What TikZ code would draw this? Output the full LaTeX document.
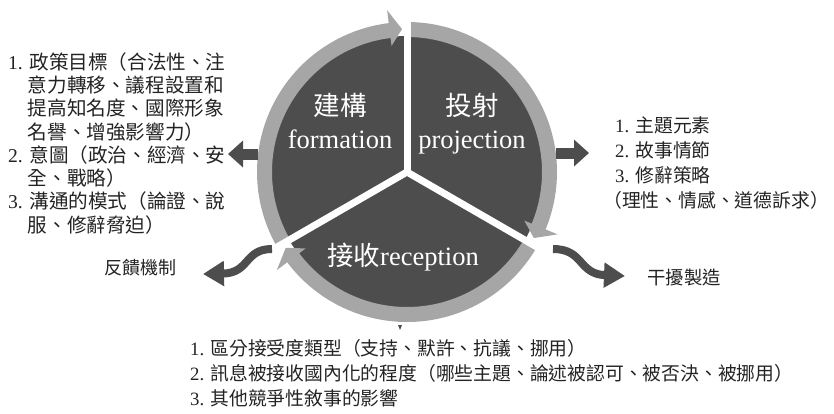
\documentclass[tikz,border=0pt]{standalone}
\usepackage{fontspec}
\setmainfont{Liberation Serif}
\newfontfamily\cjk{Noto Sans CJK TC}
\usetikzlibrary{arrows.meta,calc}
\definecolor{pie}{RGB}{77,77,77}
\definecolor{ringc}{RGB}{166,166,166}
\definecolor{ink}{RGB}{35,35,35}
\newcommand\RingArrow[3]{%
  \fill[ringc] ($(c)+(#1:150)$) arc[start angle=#1,end angle=#2,radius=150]
    -- ($(c)+(#2:163)$) -- ($(c)+(#3:143)$) -- ($(c)+(#2:127)$)
    -- ($(c)+(#2:135)$) arc[start angle=#2,end angle=#1,radius=135] -- cycle;}
\begin{document}
\begin{tikzpicture}[x=1pt,y=1pt,
  txt/.style={anchor=base west, inner sep=0pt, text=ink, font=\fontsize{18.8}{22}\selectfont},
  ltxt/.style={txt, font=\fontsize{19.6}{23}\selectfont},
  lab/.style={anchor=base, inner sep=0pt, text=white, font=\fontsize{26.5}{30}\selectfont},
  fat/.style={draw=pie, line width=11pt, -{Triangle[width=26pt,length=15pt]}},
  wavy/.style={draw=pie, line width=8pt, -{Triangle[width=24pt,length=21pt]}},
  gap/.style={draw=white, line width=7pt}]
\useasboundingbox (0,0) rectangle (834,-413);
\coordinate (c) at (407,-172);
% pie
\fill[pie] (c) circle[radius=136];
% ring arrows
\RingArrow{210}{97}{92}
\RingArrow{90}{-22.5}{-27.5}
\RingArrow{-30}{-143}{-148}
% white gaps
\coordinate (gtop) at ($(c)+(90:166)$);
\coordinate (gleft) at ($(c)+(210:166)$);
\coordinate (gright) at ($(c)+(330:166)$);
\draw[gap] (c) -- (gtop);
\draw[gap] (c) -- (gleft);
\draw[gap] (c) -- (gright);
% labels
\node[lab] (f1) at (340,-115) {\cjk 建構};
\node[lab] (f2) at (340,-148) {formation};
\node[lab] (p1) at (472,-115) {\cjk 投射};
\node[lab] (p2) at (472,-148) {projection};
\node[lab] (r1) at (403,-265) {{\cjk 接收}reception};
% straight arrows
\coordinate (la0) at (258,-154); \coordinate (la1) at (228,-154);
\coordinate (ra0) at (556,-153); \coordinate (ra1) at (589,-153);
\draw[fat] (la0) -- (la1);
\draw[fat] (ra0) -- (ra1);
% wavy arrows
\coordinate (wl0) at (272,-249); \coordinate (wl1) at (203,-274);
\coordinate (wr0) at (553,-249); \coordinate (wr1) at (625,-276);
\draw[wavy] (wl0) .. controls (244,-249) and (250,-273) .. (wl1);
\draw[wavy] (wr0) .. controls (584,-249) and (578,-274) .. (wr1);
% tiny mark
\coordinate (tm) at (400,-330);
\fill[pie] (398,-325) -- (402,-325) -- (tm) -- cycle;
% left text
\node[ltxt] (g1) at (8,-69.1) {1. {\cjk 政策目標（合法性、注}};
\node[ltxt] (g2) at (27.6,-92.4) {\cjk 意力轉移、議程設置和};
\node[ltxt] (g3) at (27.6,-115.7) {\cjk 提高知名度、國際形象};
\node[ltxt] (g4) at (27.6,-139) {\cjk 名譽、增強影響力）};
\node[ltxt] (g5) at (8,-162.3) {2. {\cjk 意圖（政治、經濟、安}};
\node[ltxt] (g6) at (27.6,-185.6) {\cjk 全、戰略）};
\node[ltxt] (g7) at (8,-208.9) {3. {\cjk 溝通的模式（論證、說}};
\node[ltxt] (g8) at (27.6,-232.2) {\cjk 服、修辭脅迫）};
\node[txt, font=\fontsize{18}{22}\selectfont] (fb) at (104,-274) {\cjk 反饋機制};
% right text
\node[txt] (q1) at (615,-132) {1. {\cjk 主題元素}};
\node[txt] (q2) at (615,-157) {2. {\cjk 故事情節}};
\node[txt] (q3) at (615,-182) {3. {\cjk 修辭策略}};
\node[txt] (q4) at (603,-207) {\cjk （理性、情感、道德訴求）};
\node[txt, font=\fontsize{18.4}{22}\selectfont] (gz) at (647,-284) {\cjk 干擾製造};
% bottom text
\node[txt] (b1) at (190,-355) {1. {\cjk 區分接受度類型（支持、默許、抗議、挪用）}};
\node[txt] (b2) at (190,-380) {2. {\cjk 訊息被接收國內化的程度（哪些主題、論述被認可、被否決、被挪用）}};
\node[txt] (b3) at (190,-405) {3. {\cjk 其他競爭性敘事的影響}};
\end{tikzpicture}
\end{document}
